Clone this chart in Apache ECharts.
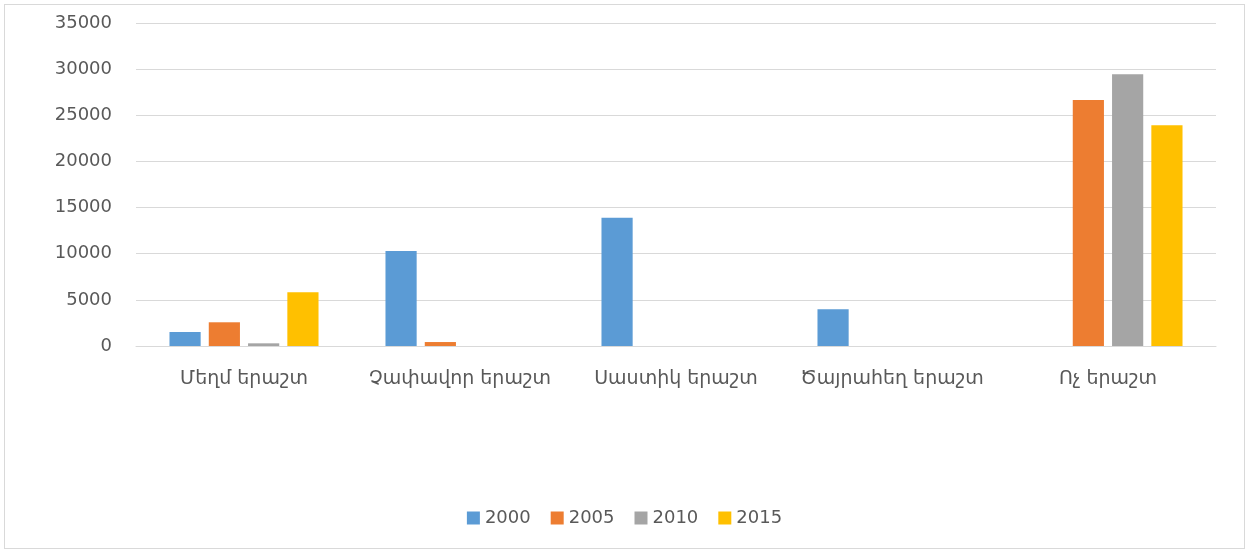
<!DOCTYPE html>
<html>
<head>
<meta charset="utf-8">
<script src="https://cdn.jsdelivr.net/npm/echarts@6/dist/echarts.min.js"></script>
<style>
  html, body { margin: 0; padding: 0; background: #fff; }
  #wrap { position: absolute; left: 4px; top: 4px; width: 1239px; height: 543px; border: 1px solid #d9d9d9; }
  #chart { position: absolute; left: 0; top: 0; width: 1249px; height: 551px; }
</style>
</head>
<body>
<div id="wrap"></div>
<div id="chart"></div>
<script>
// categories and values
var categories = ["Մեղմ երաշտ", "Չափավոր երաշտ", "Սաստիկ երաշտ", "Ծայրահեղ երաշտ", "Ոչ երաշտ"];
var years = ["2000", "2005", "2010", "2015"];
var v2000 = [1520, 10300, 13900, 3980, 0];
var v2005 = [2570, 430, 0, 0, 26650];
var v2010 = [290, 0, 0, 0, 29450];
var v2015 = [5820, 0, 0, 0, 23930];
var yTicks = { min: 0, max: 35000, interval: 5000 };

var colors = ["#5b9bd5", "#ed7d31", "#a5a5a5", "#ffc000"];
var font = "'DejaVu Sans', 'Noto Sans', sans-serif";

var myChart = echarts.init(document.getElementById("chart"));
var allValues = [v2000, v2005, v2010, v2015];

myChart.setOption({
  animation: false,
  textStyle: { fontFamily: font },
  legend: {
    bottom: 19,
    left: "center",
    itemWidth: 13,
    itemHeight: 13,
    itemGap: 20,
    icon: "rect",
    textStyle: { color: "#595959", fontSize: 18, fontFamily: font },
    data: years
  },
  grid: { left: 136, right: 33, top: 23, bottom: 205 },
  xAxis: {
    type: "category",
    data: categories,
    axisTick: { show: false },
    axisLine: { lineStyle: { color: "#d9d9d9" } },
    axisLabel: { color: "#595959", fontSize: 19, margin: 24, interval: 0, fontFamily: font }
  },
  yAxis: {
    type: "value",
    min: yTicks.min,
    max: yTicks.max,
    interval: yTicks.interval,
    axisLine: { show: false },
    axisTick: { show: false },
    axisLabel: {
      color: "#595959", fontSize: 18, margin: 24, fontFamily: font,
      formatter: function (v) { return String(v); }
    },
    splitLine: { lineStyle: { color: "#d9d9d9" } }
  },
  series: years.map(function (y, i) {
    return {
      name: y,
      type: "bar",
      data: allValues[i],
      barGap: "26%",
      barCategoryGap: "31%",
      itemStyle: { color: colors[i] }
    };
  })
});
</script>
</body>
</html>
